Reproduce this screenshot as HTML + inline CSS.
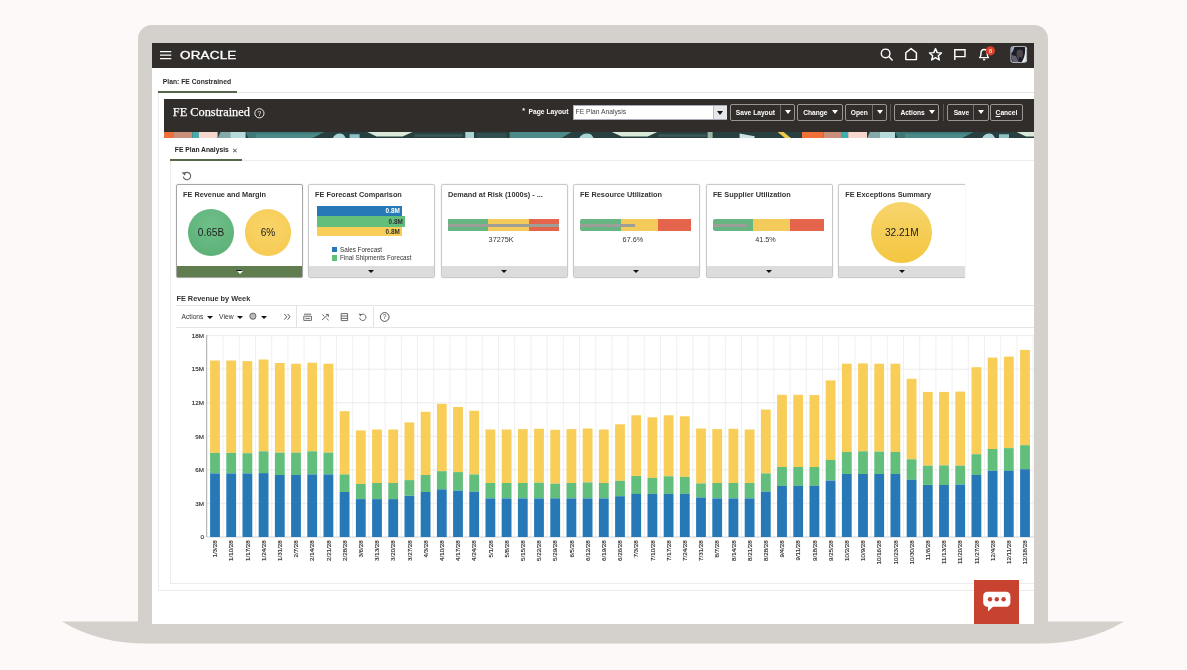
<!DOCTYPE html>
<html lang="en">
<head>
<meta charset="utf-8">
<title>FE Constrained - Plan</title>
<style>
*{box-sizing:border-box;margin:0;padding:0}
html,body{width:1187px;height:670px;overflow:hidden}
body{background:#fcf9f8;font-family:"Liberation Sans",sans-serif;color:#222;position:relative}
.abs{position:absolute}
.lid{position:absolute;left:138px;top:25px;width:910px;height:600px;background:#d4d0cb;border-radius:14px 14px 0 0}
.base{position:absolute;left:0;top:0;width:1187px;height:670px;pointer-events:none}
.screen{position:absolute;left:152px;top:43px;width:882px;height:581px;background:#fff;overflow:hidden}
.inner{position:absolute;left:-152px;top:-43px;width:1187px;height:670px;opacity:.999;will-change:transform}
.topbar{position:absolute;left:152px;top:43px;width:882px;height:24.5px;background:#312d2b}
.t{position:absolute;white-space:nowrap;line-height:1}
.b{font-weight:bold}
.ax{font-family:"Liberation Sans",sans-serif;font-size:6.25px;fill:#262626;stroke:#262626;stroke-width:.12px}
.hdr{position:absolute;left:164px;top:99px;width:870px;height:33px;background:#312d2b}
.btn{position:absolute;top:104.3px;height:16.4px;border:1px solid #9a9693;border-radius:2px;color:#fff;font-size:6.65px;font-weight:bold;line-height:15.2px;white-space:nowrap}
.btn span{position:absolute;top:0}
.btn i{position:absolute;top:0;bottom:0;width:1px;background:#6f6b68}
.tri{position:absolute;width:0;height:0;border-left:3px solid transparent;border-right:3px solid transparent;border-top:4px solid #fff}
.card{position:absolute;top:184.3px;width:126.7px;height:93.5px;border:1px solid #c9c9c9;border-radius:2px;background:#fff;box-shadow:0 0 2px rgba(0,0,0,.12)}
.card .ft{position:absolute;left:0;right:0;bottom:0;height:11.3px;background:#dcdcdc}
.card .ft:after{content:"";position:absolute;left:50%;top:4.1px;margin-left:-3.4px;border-left:3.4px solid transparent;border-right:3.4px solid transparent;border-top:3.8px solid #111}
.card .ttl{position:absolute;left:5.8px;top:6px;font-size:7.34px;font-weight:bold;color:#333;white-space:nowrap;line-height:1}
.g{position:absolute;top:33.6px;height:12.6px}
.val{position:absolute;top:50.7px;font-size:7.25px;color:#333;line-height:1;white-space:nowrap;transform:translateX(-50%)}
.circ{position:absolute;border-radius:50%;text-align:center;color:#222}
</style>
</head>
<body>
<div class="lid"></div>
<svg class="base" viewBox="0 0 1187 670"><path d="M62 621.5 L1124 621.5 C1098 637 1070 643.6 1040 643.6 L146 643.6 C116 643.6 88 637 62 621.5 Z" fill="#d4d0cb"/></svg>

<div class="screen"><div class="inner">

<!-- global top bar -->
<div class="topbar"></div>
<svg class="abs" style="left:0;top:0" width="1187" height="100" viewBox="0 0 1187 100">
  <g stroke="#fff" stroke-width="1.45" fill="none">
    <path d="M160 51.6H171.3M160 55.1H171.3M160 58.6H171.3"/>
    <!-- search -->
    <circle cx="885.6" cy="53.4" r="4.3"/><path d="M888.8 56.6L892.6 60.4"/>
    <!-- home -->
    <path d="M905.8 59.6V52.8L911.1 48.6L916.4 52.8V59.6Z" stroke-linejoin="round"/>
    <!-- star -->
    <path d="M935.5 48.6L937.2 52.6L941.5 53L938.3 55.8L939.3 60L935.5 57.7L931.7 60L932.7 55.8L929.5 53L933.8 52.6Z" stroke-linejoin="round"/>
    <!-- flag -->
    <path d="M954.8 60V49.8H965V56.6H954.8"/>
    <!-- bell -->
    <path d="M979.8 57.6H988.4C987.2 56.4 987.2 55 987.2 53.2C987.2 50.8 985.8 49.4 984.1 49.4C982.4 49.4 981 50.8 981 53.2C981 55 981 56.4 979.8 57.6Z" stroke-linejoin="round"/>
    <path d="M983 59.6H985.2"/>
  </g>
  <circle cx="990.4" cy="50.8" r="4.6" fill="#d9412c"/>
  <text x="990.6" y="52.6" text-anchor="middle" font-family="Liberation Sans, sans-serif" font-size="5.5" font-weight="bold" fill="#ffd9c4">8</text>
  <!-- avatar -->
  <rect x="1010.5" y="46.2" width="16.6" height="16.6" rx="2.8" fill="#d3d8e0"/>
  <clipPath id="avc"><rect x="1011.3" y="47" width="15" height="15" rx="2.2"/></clipPath>
  <g clip-path="url(#avc)">
    <rect x="1011" y="46.8" width="16" height="16" fill="#1a1d27"/>
    <path d="M1011 55L1013 62.5H1019L1016 56Z" fill="#635f72"/>
    <path d="M1026.6 47V62.4H1021.5C1024.5 58 1025.6 53 1025 47Z" fill="#e6ebea"/>
    <path d="M1011 47H1014.5L1012.5 52L1011 53Z" fill="#aab3c4"/>
    <path d="M1017.4 50.2C1020.6 48.6 1023.2 50 1023 53.4C1022.8 56.6 1021.6 59.4 1019.8 60.4C1018 59.6 1016.6 56.8 1016.6 54C1016.6 52.4 1016.8 51 1017.4 50.2Z" fill="#4d4548"/>
    <path d="M1019 57.4C1020 57 1021 57.2 1021.4 57.8C1021 59.4 1020.4 60.4 1019.8 60.8C1019.2 60 1018.8 58.6 1019 57.4Z" fill="#14151c"/>
  </g>
</svg>


<div class="t" id="oracle" style="left:179.8px;top:51px;font-size:10px;color:#fff;transform-origin:0 0;transform:scaleX(1.345);will-change:transform;letter-spacing:.15px;-webkit-text-stroke:.3px #fff">ORACLE</div>

<!-- plan tab -->
<div class="t b" id="plan" style="left:162.8px;top:79.2px;font-size:6.75px;color:#2a2a2a;">Plan: FE Constrained</div>
<div class="abs" style="left:158px;top:92.2px;width:876px;height:1px;background:#e6e6e6"></div>
<div class="abs" style="left:158px;top:91px;width:78.5px;height:2px;background:#56684a"></div>

<!-- dark header -->
<div class="hdr"></div>
<svg class="abs" style="left:164px;top:131.6px" width="870" height="6.6" viewBox="0 0 870 6.6" preserveAspectRatio="none">
  <defs>
    <g id="pat">
      <rect x="0" y="0" width="650" height="6.6" fill="#27403f"/>
      <rect x="0" y="0" width="21.4" height="6.6" fill="#f0703a"/>
      <rect x="21.4" y="0" width="18.4" height="6.6" fill="#c98f7a"/>
      <rect x="39.8" y="0" width="6.4" height="6.6" fill="#3fb0b0"/>
      <rect x="46.2" y="0" width="18.8" height="6.6" fill="#f6d6cd"/>
      <path d="M65 6.6L68 0H77.6V6.6Z" fill="#86a9aa"/>
      <rect x="77.6" y="0" width="15.4" height="6.6" fill="#b7dadc"/>
      <path d="M93 0H172L158 6.6H96Z" fill="#3e7878"/>
      <path d="M103 1.8H168L159 6.6H103Z" fill="#4c8a8a"/>
      <path d="M180 6.6C182 0.6 190 0.4 191.5 3.6L193.5 6.6Z" fill="#a9d3d6"/>
      <rect x="197" y="2.2" width="10" height="4.4" fill="#8fc0c4"/>
      <path d="M214.6 0H260L250 4.4H224Z" fill="#d9ead9"/>
      <path d="M262 2.2h48v2.6h-48z" fill="#3b5a5a"/>
      <rect x="312.7" y="0" width="8.7" height="6.6" fill="#a9d3d6"/>
      <rect x="324" y="1" width="30" height="5.6" fill="#30504f"/>
      <path d="M357 0H419L408 6.6H357Z" fill="#4c8a8a"/>
      <path d="M426.4 6.6C428.4 0.6 438 0.4 439.4 3.6L441.4 6.6Z" fill="#a9d3d6"/>
      <path d="M459.2 0H504.7L495 4.4H469Z" fill="#d9ead9"/>
      <path d="M506 2.2h48v2.6h-48z" fill="#3b5a5a"/>
      <rect x="555" y="0" width="5" height="6.6" fill="#9db4a3"/>
      <path d="M587 1.4L602 4.2V6.6H587Z" fill="#cfe3e3"/>
      <path d="M625 0L633 6.6H639L631 0Z" fill="#f0c84a"/>
    </g>
  </defs>
  <use href="#pat" x="-11.4"/><use href="#pat" x="638"/>
</svg>
<div class="t b" id="fec" style="left:172.8px;top:106.2px;font-family:'Liberation Serif',serif;font-size:12.35px;font-weight:normal;color:#fff;-webkit-text-stroke:.25px #fff">FE Constrained</div>
<svg class="abs" style="left:253px;top:107px" width="13" height="13" viewBox="0 0 13 13"><circle cx="6.4" cy="6.3" r="4.6" fill="none" stroke="#fff" stroke-width=".9"/><text x="6.4" y="8.7" text-anchor="middle" font-family="Liberation Sans, sans-serif" font-size="6.8" fill="#fff">?</text></svg>

<div class="t b" style="left:522.3px;top:107.4px;font-size:7px;color:#fff">*</div>
<div class="t b" id="pl" style="left:528.6px;top:109.1px;font-size:6.7px;color:#fff">Page Layout</div>
<div class="abs" style="left:572.6px;top:105.2px;width:154.6px;height:14.8px;background:#fff;border:1px solid #aab;"></div>
<div class="abs" style="left:712.5px;top:106px;width:14px;height:13.2px;background:#e4e6ea;border-left:1px solid #b8bcc4"></div>
<div class="tri" style="left:716.6px;top:111.2px;border-top-color:#111;border-left-width:3.2px;border-right-width:3.2px;border-top-width:4.2px"></div>
<div class="t" id="sel" style="left:575.6px;top:109.3px;font-size:6.73px;color:#444">FE Plan Analysis</div>

<div class="btn" style="left:730.2px;width:64.6px"><span style="left:4.6px">Save Layout</span><i style="left:48.6px"></i><div class="tri" style="left:53.6px;top:4.6px"></div></div>
<div class="btn" style="left:797.4px;width:45.4px"><span style="left:4.8px">Change</span><div class="tri" style="left:33.6px;top:4.6px"></div></div>
<div class="btn" style="left:844.6px;width:42.8px"><span style="left:5.2px">Open</span><i style="left:26.4px"></i><div class="tri" style="left:31.6px;top:4.6px"></div></div>
<div class="abs" style="left:890.4px;top:104px;width:1px;height:17px;background:#5b5754"></div>
<div class="btn" style="left:894.2px;width:44.8px"><span style="left:5.2px">Actions</span><div class="tri" style="left:34px;top:4.6px"></div></div>
<div class="abs" style="left:943px;top:104px;width:1px;height:17px;background:#5b5754"></div>
<div class="btn" style="left:947.3px;width:41.3px"><span style="left:5.4px">Save</span><i style="left:24.6px"></i><div class="tri" style="left:29.6px;top:4.6px"></div></div>
<div class="btn" style="left:990.4px;width:32.2px"><span style="left:4.2px"><u>C</u>ancel</span></div>

<!-- page frames -->
<div class="abs" style="left:157.5px;top:93px;width:900px;height:497.6px;border:1px solid #ebebeb;border-top:0"></div>
<div class="abs" style="left:169.6px;top:159.6px;width:900px;height:424px;border:1px solid #ececec"></div>

<!-- sub tab -->
<div class="t b" id="fpa" style="left:174.8px;top:146.6px;font-size:6.74px;color:#222">FE Plan Analysis</div>
<div class="t" style="left:232px;top:146.6px;font-size:7px;color:#444">✕</div>
<div class="abs" style="left:169.6px;top:159px;width:72px;height:2px;background:#56684a"></div>

<!-- refresh icon -->
<svg class="abs" style="left:181px;top:170px" width="12" height="12" viewBox="0 0 12 12"><path d="M3.4 3.4A3.7 3.7 0 1 1 2.3 6.6" fill="none" stroke="#666" stroke-width="1.1"/><path d="M0.6 2.6L4.8 2L4 5.8Z" fill="#666"/></svg>

<!-- cards -->
<div class="card" style="left:176.2px;border-color:#a4a4a4">
  <div class="ttl">FE Revenue and Margin</div>
  <div class="circ" style="left:10.5px;top:24px;width:46.6px;height:46.6px;background:radial-gradient(circle at 50% 35%,#6fc088,#58ad75);font-size:10.1px;line-height:48px">0.65B</div>
  <div class="circ" style="left:67.5px;top:24px;width:46.6px;height:46.6px;background:radial-gradient(circle at 50% 35%,#f9d468,#f5c94f);font-size:10.1px;line-height:48px">6%</div>
  <div class="ft" style="background:#5f7d4f"></div>
  <div class="abs" style="left:59.6px;bottom:3.2px;border-left:3.4px solid transparent;border-right:3.4px solid transparent;border-top:3.8px solid #fff"></div>
</div>

<div class="card" style="left:308.3px">
  <div class="ttl">FE Forecast Comparison</div>
  <div class="abs" style="left:7.9px;top:21.2px;width:84.7px;height:10px;background:#2679b6"></div>
  <div class="abs" style="left:7.9px;top:31.2px;width:87.8px;height:10.1px;background:#62be7b"></div>
  <div class="abs" style="left:7.9px;top:41.3px;width:84.7px;height:9.9px;background:#f8ce58"></div>
  <div class="t b" style="right:34.2px;top:23.2px;font-size:6.4px;color:#fff">0.8M</div>
  <div class="t b" style="right:31.2px;top:33.3px;font-size:6.4px;color:#333">0.8M</div>
  <div class="t b" style="right:34.2px;top:43.3px;font-size:6.4px;color:#333">0.8M</div>
  <div class="abs" style="left:22.5px;top:61.7px;width:5.4px;height:5.4px;background:#2679b6"></div>
  <div class="abs" style="left:22.5px;top:69.9px;width:5.4px;height:5.4px;background:#62be7b"></div>
  <div class="t" style="left:30.8px;top:61.4px;font-size:6.3px;color:#333">Sales Forecast</div>
  <div class="t" style="left:30.8px;top:69.6px;font-size:6.3px;color:#333">Final Shipments Forecast</div>
  <div class="ft"></div>
</div>

<div class="card" style="left:441.1px">
  <div class="ttl">Demand at Risk (1000s) - ...</div>
  <div class="g" style="left:5.8px;width:40.1px;background:#68b584"></div>
  <div class="g" style="left:45.9px;width:40.8px;background:#f3cb5b"></div>
  <div class="g" style="left:86.7px;width:30px;background:#e4654b"></div>
  <div class="abs" style="left:5.8px;top:38.5px;width:110.9px;height:3px;background:#9e9e98"></div>
  <div class="val" style="left:59px">37275K</div>
  <div class="ft"></div>
</div>

<div class="card" style="left:573.3px">
  <div class="ttl">FE Resource Utilization</div>
  <div class="g" style="left:5.6px;width:40.8px;background:#68b584;border-radius:2px 0 0 2px"></div>
  <div class="g" style="left:46.4px;width:37px;background:#f3cb5b"></div>
  <div class="g" style="left:83.4px;width:33.3px;background:#e4654b"></div>
  <div class="abs" style="left:5.6px;top:38.5px;width:55.1px;height:3px;background:#9e9e98"></div>
  <div class="val" style="left:58.6px">67.6%</div>
  <div class="ft"></div>
</div>

<div class="card" style="left:706.1px">
  <div class="ttl">FE Supplier Utilization</div>
  <div class="g" style="left:5.8px;width:40.1px;background:#68b584;border-radius:2px 0 0 2px"></div>
  <div class="g" style="left:45.9px;width:36.8px;background:#f3cb5b"></div>
  <div class="g" style="left:82.7px;width:34px;background:#e4654b"></div>
  <div class="abs" style="left:5.8px;top:38.5px;width:33.7px;height:3px;background:#9e9e98"></div>
  <div class="val" style="left:58.4px">41.5%</div>
  <div class="ft"></div>
</div>

<div class="card" style="left:838.4px;width:126.2px;border-right:0;border-radius:2px 0 0 2px">
  <div class="ttl">FE Exceptions Summary</div>
  <div class="circ" style="left:32px;top:16.8px;width:60.8px;height:60.8px;background:linear-gradient(#f7d56c,#f4c640);font-size:10.1px;line-height:61.8px">32.21M</div>
  <div class="ft"></div>
</div>

<!-- chart section -->
<div class="t b" id="rbw" style="left:176.4px;top:294.7px;font-size:7.36px;color:#333">FE Revenue by Week</div>
<div class="abs" style="left:176px;top:304.6px;width:860px;height:1px;background:#e6e6e6"></div>
<div class="abs" style="left:176px;top:327px;width:860px;height:1px;background:#e6e6e6"></div>
<div class="abs" style="left:296.2px;top:305px;width:1px;height:22px;background:#e2e2e2"></div>
<div class="abs" style="left:372.8px;top:307px;width:1px;height:20px;background:#e2e2e2"></div>
<div class="t" id="act" style="left:181.5px;top:313.6px;font-size:6.7px;color:#333">Actions</div>
<div class="tri" style="left:206.6px;top:316px;border-top-color:#111;border-width:3.6px 3.1px 0"></div>
<div class="t" id="view" style="left:219.1px;top:313.6px;font-size:6.75px;color:#333">View</div>
<div class="tri" style="left:236.5px;top:316px;border-top-color:#111;border-width:3.6px 3.1px 0"></div>
<div class="tri" style="left:260.6px;top:316px;border-top-color:#111;border-width:3.6px 3.1px 0"></div>
<svg class="abs" style="left:176px;top:305px" width="240" height="23" viewBox="176 305 240 23">
  <circle cx="252.9" cy="316.2" r="3.1" fill="#bbb" stroke="#666" stroke-width="1"/>
  <path d="M284.4 314L286.8 316.8L284.4 319.6M287.6 314L290 316.8L287.6 319.6" fill="none" stroke="#444" stroke-width=".9"/>
  <g stroke="#686868" stroke-width="1" fill="none">
    <path d="M304 314.2H311.2M303.8 316.2H311.4V320.4H303.8ZM305.4 318.4H309.8"/>
    <path d="M322 320L328 314.6M326 314.4H328.4V316.8M322.4 314.6L324.4 316.4M326.6 318.4L328.6 320.2"/>
    <path d="M341.2 313.6H347.6V320.6H341.2ZM341.2 316H347.6M341.2 318.4H347.6"/>
    <path d="M360.6 315A3.2 3.2 0 1 1 359.6 317.8"/>
  </g>
  <path d="M358.4 313.6L361.6 314L360.6 316.6Z" fill="#686868"/>
  <circle cx="384.7" cy="317" r="4.4" fill="none" stroke="#444" stroke-width=".9"/>
  <text x="384.7" y="319.4" text-anchor="middle" font-family="Liberation Sans, sans-serif" font-size="6.6" fill="#444">?</text>
</svg>

<svg class="abs" style="left:0;top:0" width="1187" height="670" viewBox="0 0 1187 670">
<line x1="223.1" y1="335.5" x2="223.1" y2="537.0" stroke="#f0f0f3" stroke-width="1"/>
<line x1="239.3" y1="335.5" x2="239.3" y2="537.0" stroke="#f0f0f3" stroke-width="1"/>
<line x1="255.5" y1="335.5" x2="255.5" y2="537.0" stroke="#f0f0f3" stroke-width="1"/>
<line x1="271.7" y1="335.5" x2="271.7" y2="537.0" stroke="#f0f0f3" stroke-width="1"/>
<line x1="287.9" y1="335.5" x2="287.9" y2="537.0" stroke="#f0f0f3" stroke-width="1"/>
<line x1="304.1" y1="335.5" x2="304.1" y2="537.0" stroke="#f0f0f3" stroke-width="1"/>
<line x1="320.3" y1="335.5" x2="320.3" y2="537.0" stroke="#f0f0f3" stroke-width="1"/>
<line x1="336.5" y1="335.5" x2="336.5" y2="537.0" stroke="#f0f0f3" stroke-width="1"/>
<line x1="352.7" y1="335.5" x2="352.7" y2="537.0" stroke="#f0f0f3" stroke-width="1"/>
<line x1="368.9" y1="335.5" x2="368.9" y2="537.0" stroke="#f0f0f3" stroke-width="1"/>
<line x1="385.1" y1="335.5" x2="385.1" y2="537.0" stroke="#f0f0f3" stroke-width="1"/>
<line x1="401.3" y1="335.5" x2="401.3" y2="537.0" stroke="#f0f0f3" stroke-width="1"/>
<line x1="417.5" y1="335.5" x2="417.5" y2="537.0" stroke="#f0f0f3" stroke-width="1"/>
<line x1="433.7" y1="335.5" x2="433.7" y2="537.0" stroke="#f0f0f3" stroke-width="1"/>
<line x1="449.9" y1="335.5" x2="449.9" y2="537.0" stroke="#f0f0f3" stroke-width="1"/>
<line x1="466.1" y1="335.5" x2="466.1" y2="537.0" stroke="#f0f0f3" stroke-width="1"/>
<line x1="482.3" y1="335.5" x2="482.3" y2="537.0" stroke="#f0f0f3" stroke-width="1"/>
<line x1="498.5" y1="335.5" x2="498.5" y2="537.0" stroke="#f0f0f3" stroke-width="1"/>
<line x1="514.7" y1="335.5" x2="514.7" y2="537.0" stroke="#f0f0f3" stroke-width="1"/>
<line x1="530.9" y1="335.5" x2="530.9" y2="537.0" stroke="#f0f0f3" stroke-width="1"/>
<line x1="547.1" y1="335.5" x2="547.1" y2="537.0" stroke="#f0f0f3" stroke-width="1"/>
<line x1="563.3" y1="335.5" x2="563.3" y2="537.0" stroke="#f0f0f3" stroke-width="1"/>
<line x1="579.5" y1="335.5" x2="579.5" y2="537.0" stroke="#f0f0f3" stroke-width="1"/>
<line x1="595.7" y1="335.5" x2="595.7" y2="537.0" stroke="#f0f0f3" stroke-width="1"/>
<line x1="611.9" y1="335.5" x2="611.9" y2="537.0" stroke="#f0f0f3" stroke-width="1"/>
<line x1="628.1" y1="335.5" x2="628.1" y2="537.0" stroke="#f0f0f3" stroke-width="1"/>
<line x1="644.3" y1="335.5" x2="644.3" y2="537.0" stroke="#f0f0f3" stroke-width="1"/>
<line x1="660.5" y1="335.5" x2="660.5" y2="537.0" stroke="#f0f0f3" stroke-width="1"/>
<line x1="676.7" y1="335.5" x2="676.7" y2="537.0" stroke="#f0f0f3" stroke-width="1"/>
<line x1="692.9" y1="335.5" x2="692.9" y2="537.0" stroke="#f0f0f3" stroke-width="1"/>
<line x1="709.1" y1="335.5" x2="709.1" y2="537.0" stroke="#f0f0f3" stroke-width="1"/>
<line x1="725.3" y1="335.5" x2="725.3" y2="537.0" stroke="#f0f0f3" stroke-width="1"/>
<line x1="741.5" y1="335.5" x2="741.5" y2="537.0" stroke="#f0f0f3" stroke-width="1"/>
<line x1="757.7" y1="335.5" x2="757.7" y2="537.0" stroke="#f0f0f3" stroke-width="1"/>
<line x1="773.9" y1="335.5" x2="773.9" y2="537.0" stroke="#f0f0f3" stroke-width="1"/>
<line x1="790.1" y1="335.5" x2="790.1" y2="537.0" stroke="#f0f0f3" stroke-width="1"/>
<line x1="806.3" y1="335.5" x2="806.3" y2="537.0" stroke="#f0f0f3" stroke-width="1"/>
<line x1="822.5" y1="335.5" x2="822.5" y2="537.0" stroke="#f0f0f3" stroke-width="1"/>
<line x1="838.7" y1="335.5" x2="838.7" y2="537.0" stroke="#f0f0f3" stroke-width="1"/>
<line x1="854.9" y1="335.5" x2="854.9" y2="537.0" stroke="#f0f0f3" stroke-width="1"/>
<line x1="871.1" y1="335.5" x2="871.1" y2="537.0" stroke="#f0f0f3" stroke-width="1"/>
<line x1="887.3" y1="335.5" x2="887.3" y2="537.0" stroke="#f0f0f3" stroke-width="1"/>
<line x1="903.5" y1="335.5" x2="903.5" y2="537.0" stroke="#f0f0f3" stroke-width="1"/>
<line x1="919.7" y1="335.5" x2="919.7" y2="537.0" stroke="#f0f0f3" stroke-width="1"/>
<line x1="935.9" y1="335.5" x2="935.9" y2="537.0" stroke="#f0f0f3" stroke-width="1"/>
<line x1="952.1" y1="335.5" x2="952.1" y2="537.0" stroke="#f0f0f3" stroke-width="1"/>
<line x1="968.3" y1="335.5" x2="968.3" y2="537.0" stroke="#f0f0f3" stroke-width="1"/>
<line x1="984.5" y1="335.5" x2="984.5" y2="537.0" stroke="#f0f0f3" stroke-width="1"/>
<line x1="1000.7" y1="335.5" x2="1000.7" y2="537.0" stroke="#f0f0f3" stroke-width="1"/>
<line x1="1016.9" y1="335.5" x2="1016.9" y2="537.0" stroke="#f0f0f3" stroke-width="1"/>
<line x1="1033.1" y1="335.5" x2="1033.1" y2="537.0" stroke="#f0f0f3" stroke-width="1"/>
<line x1="206.7" y1="503.4" x2="1034" y2="503.4" stroke="#ececf0" stroke-width="1"/>
<line x1="206.7" y1="469.9" x2="1034" y2="469.9" stroke="#ececf0" stroke-width="1"/>
<line x1="206.7" y1="436.4" x2="1034" y2="436.4" stroke="#ececf0" stroke-width="1"/>
<line x1="206.7" y1="402.8" x2="1034" y2="402.8" stroke="#ececf0" stroke-width="1"/>
<line x1="206.7" y1="369.2" x2="1034" y2="369.2" stroke="#ececf0" stroke-width="1"/>
<line x1="206.7" y1="335.7" x2="1034" y2="335.7" stroke="#ececf0" stroke-width="1"/>
<line x1="206.7" y1="335" x2="206.7" y2="537.0" stroke="#a8a8a8" stroke-width="1"/>
<line x1="206.7" y1="537.0" x2="1034" y2="537.0" stroke="#d0d0d0" stroke-width="1"/>
<rect x="210.1" y="360.5" width="9.8" height="92.4" fill="#f8ce58"/>
<rect x="210.1" y="452.9" width="9.8" height="20.5" fill="#62be7b"/>
<rect x="210.1" y="473.4" width="9.8" height="63.6" fill="#2679b6"/>
<rect x="226.3" y="360.5" width="9.8" height="92.4" fill="#f8ce58"/>
<rect x="226.3" y="452.9" width="9.8" height="20.5" fill="#62be7b"/>
<rect x="226.3" y="473.4" width="9.8" height="63.6" fill="#2679b6"/>
<rect x="242.5" y="361.1" width="9.8" height="92.1" fill="#f8ce58"/>
<rect x="242.5" y="453.2" width="9.8" height="20.2" fill="#62be7b"/>
<rect x="242.5" y="473.4" width="9.8" height="63.6" fill="#2679b6"/>
<rect x="258.7" y="359.5" width="9.8" height="91.8" fill="#f8ce58"/>
<rect x="258.7" y="451.3" width="9.8" height="21.8" fill="#62be7b"/>
<rect x="258.7" y="473.1" width="9.8" height="63.9" fill="#2679b6"/>
<rect x="274.9" y="363.0" width="9.8" height="89.5" fill="#f8ce58"/>
<rect x="274.9" y="452.6" width="9.8" height="22.5" fill="#62be7b"/>
<rect x="274.9" y="475.0" width="9.8" height="62.0" fill="#2679b6"/>
<rect x="291.1" y="363.7" width="9.8" height="88.9" fill="#f8ce58"/>
<rect x="291.1" y="452.6" width="9.8" height="22.5" fill="#62be7b"/>
<rect x="291.1" y="475.0" width="9.8" height="62.0" fill="#2679b6"/>
<rect x="307.3" y="362.7" width="9.8" height="88.5" fill="#f8ce58"/>
<rect x="307.3" y="451.3" width="9.8" height="23.1" fill="#62be7b"/>
<rect x="307.3" y="474.4" width="9.8" height="62.6" fill="#2679b6"/>
<rect x="323.5" y="363.7" width="9.8" height="88.9" fill="#f8ce58"/>
<rect x="323.5" y="452.6" width="9.8" height="21.8" fill="#62be7b"/>
<rect x="323.5" y="474.4" width="9.8" height="62.6" fill="#2679b6"/>
<rect x="339.7" y="411.2" width="9.8" height="63.2" fill="#f8ce58"/>
<rect x="339.7" y="474.4" width="9.8" height="17.6" fill="#62be7b"/>
<rect x="339.7" y="492.0" width="9.8" height="45.0" fill="#2679b6"/>
<rect x="355.9" y="430.4" width="9.8" height="53.6" fill="#f8ce58"/>
<rect x="355.9" y="484.0" width="9.8" height="15.1" fill="#62be7b"/>
<rect x="355.9" y="499.1" width="9.8" height="37.9" fill="#2679b6"/>
<rect x="372.1" y="429.5" width="9.8" height="53.6" fill="#f8ce58"/>
<rect x="372.1" y="483.0" width="9.8" height="16.0" fill="#62be7b"/>
<rect x="372.1" y="499.1" width="9.8" height="37.9" fill="#2679b6"/>
<rect x="388.3" y="429.5" width="9.8" height="53.6" fill="#f8ce58"/>
<rect x="388.3" y="483.0" width="9.8" height="16.0" fill="#62be7b"/>
<rect x="388.3" y="499.1" width="9.8" height="37.9" fill="#2679b6"/>
<rect x="404.5" y="422.4" width="9.8" height="57.7" fill="#f8ce58"/>
<rect x="404.5" y="480.1" width="9.8" height="15.7" fill="#62be7b"/>
<rect x="404.5" y="495.9" width="9.8" height="41.1" fill="#2679b6"/>
<rect x="420.7" y="411.8" width="9.8" height="63.2" fill="#f8ce58"/>
<rect x="420.7" y="475.0" width="9.8" height="17.0" fill="#62be7b"/>
<rect x="420.7" y="492.0" width="9.8" height="45.0" fill="#2679b6"/>
<rect x="436.9" y="403.8" width="9.8" height="67.4" fill="#f8ce58"/>
<rect x="436.9" y="471.2" width="9.8" height="18.3" fill="#62be7b"/>
<rect x="436.9" y="489.4" width="9.8" height="47.6" fill="#2679b6"/>
<rect x="453.1" y="407.0" width="9.8" height="65.1" fill="#f8ce58"/>
<rect x="453.1" y="472.1" width="9.8" height="18.6" fill="#62be7b"/>
<rect x="453.1" y="490.7" width="9.8" height="46.3" fill="#2679b6"/>
<rect x="469.3" y="410.8" width="9.8" height="63.5" fill="#f8ce58"/>
<rect x="469.3" y="474.4" width="9.8" height="17.3" fill="#62be7b"/>
<rect x="469.3" y="491.7" width="9.8" height="45.3" fill="#2679b6"/>
<rect x="485.5" y="429.5" width="9.8" height="53.6" fill="#f8ce58"/>
<rect x="485.5" y="483.0" width="9.8" height="15.4" fill="#62be7b"/>
<rect x="485.5" y="498.4" width="9.8" height="38.6" fill="#2679b6"/>
<rect x="501.7" y="429.5" width="9.8" height="53.6" fill="#f8ce58"/>
<rect x="501.7" y="483.0" width="9.8" height="15.4" fill="#62be7b"/>
<rect x="501.7" y="498.4" width="9.8" height="38.6" fill="#2679b6"/>
<rect x="517.9" y="429.1" width="9.8" height="53.9" fill="#f8ce58"/>
<rect x="517.9" y="483.0" width="9.8" height="15.4" fill="#62be7b"/>
<rect x="517.9" y="498.4" width="9.8" height="38.6" fill="#2679b6"/>
<rect x="534.1" y="428.8" width="9.8" height="53.9" fill="#f8ce58"/>
<rect x="534.1" y="482.7" width="9.8" height="15.7" fill="#62be7b"/>
<rect x="534.1" y="498.4" width="9.8" height="38.6" fill="#2679b6"/>
<rect x="550.3" y="429.8" width="9.8" height="53.9" fill="#f8ce58"/>
<rect x="550.3" y="483.7" width="9.8" height="14.8" fill="#62be7b"/>
<rect x="550.3" y="498.4" width="9.8" height="38.6" fill="#2679b6"/>
<rect x="566.5" y="429.1" width="9.8" height="53.9" fill="#f8ce58"/>
<rect x="566.5" y="483.0" width="9.8" height="15.4" fill="#62be7b"/>
<rect x="566.5" y="498.4" width="9.8" height="38.6" fill="#2679b6"/>
<rect x="582.7" y="428.5" width="9.8" height="53.9" fill="#f8ce58"/>
<rect x="582.7" y="482.4" width="9.8" height="16.0" fill="#62be7b"/>
<rect x="582.7" y="498.4" width="9.8" height="38.6" fill="#2679b6"/>
<rect x="598.9" y="429.5" width="9.8" height="53.6" fill="#f8ce58"/>
<rect x="598.9" y="483.0" width="9.8" height="15.4" fill="#62be7b"/>
<rect x="598.9" y="498.4" width="9.8" height="38.6" fill="#2679b6"/>
<rect x="615.1" y="424.3" width="9.8" height="56.5" fill="#f8ce58"/>
<rect x="615.1" y="480.8" width="9.8" height="15.4" fill="#62be7b"/>
<rect x="615.1" y="496.2" width="9.8" height="40.8" fill="#2679b6"/>
<rect x="631.3" y="415.3" width="9.8" height="60.6" fill="#f8ce58"/>
<rect x="631.3" y="476.0" width="9.8" height="18.0" fill="#62be7b"/>
<rect x="631.3" y="493.9" width="9.8" height="43.1" fill="#2679b6"/>
<rect x="647.5" y="417.3" width="9.8" height="60.6" fill="#f8ce58"/>
<rect x="647.5" y="477.9" width="9.8" height="16.0" fill="#62be7b"/>
<rect x="647.5" y="493.9" width="9.8" height="43.1" fill="#2679b6"/>
<rect x="663.7" y="415.3" width="9.8" height="61.0" fill="#f8ce58"/>
<rect x="663.7" y="476.3" width="9.8" height="17.6" fill="#62be7b"/>
<rect x="663.7" y="493.9" width="9.8" height="43.1" fill="#2679b6"/>
<rect x="679.9" y="416.3" width="9.8" height="60.6" fill="#f8ce58"/>
<rect x="679.9" y="476.9" width="9.8" height="17.0" fill="#62be7b"/>
<rect x="679.9" y="493.9" width="9.8" height="43.1" fill="#2679b6"/>
<rect x="696.1" y="428.5" width="9.8" height="54.9" fill="#f8ce58"/>
<rect x="696.1" y="483.4" width="9.8" height="14.1" fill="#62be7b"/>
<rect x="696.1" y="497.5" width="9.8" height="39.5" fill="#2679b6"/>
<rect x="712.3" y="429.1" width="9.8" height="53.9" fill="#f8ce58"/>
<rect x="712.3" y="483.0" width="9.8" height="15.4" fill="#62be7b"/>
<rect x="712.3" y="498.4" width="9.8" height="38.6" fill="#2679b6"/>
<rect x="728.5" y="428.8" width="9.8" height="54.2" fill="#f8ce58"/>
<rect x="728.5" y="483.0" width="9.8" height="15.4" fill="#62be7b"/>
<rect x="728.5" y="498.4" width="9.8" height="38.6" fill="#2679b6"/>
<rect x="744.7" y="429.5" width="9.8" height="53.6" fill="#f8ce58"/>
<rect x="744.7" y="483.0" width="9.8" height="15.4" fill="#62be7b"/>
<rect x="744.7" y="498.4" width="9.8" height="38.6" fill="#2679b6"/>
<rect x="760.9" y="409.6" width="9.8" height="63.8" fill="#f8ce58"/>
<rect x="760.9" y="473.4" width="9.8" height="18.3" fill="#62be7b"/>
<rect x="760.9" y="491.7" width="9.8" height="45.3" fill="#2679b6"/>
<rect x="777.1" y="394.8" width="9.8" height="72.2" fill="#f8ce58"/>
<rect x="777.1" y="467.0" width="9.8" height="18.9" fill="#62be7b"/>
<rect x="777.1" y="485.9" width="9.8" height="51.1" fill="#2679b6"/>
<rect x="793.3" y="394.8" width="9.8" height="72.2" fill="#f8ce58"/>
<rect x="793.3" y="467.0" width="9.8" height="18.9" fill="#62be7b"/>
<rect x="793.3" y="485.9" width="9.8" height="51.1" fill="#2679b6"/>
<rect x="809.5" y="395.1" width="9.8" height="71.9" fill="#f8ce58"/>
<rect x="809.5" y="467.0" width="9.8" height="18.9" fill="#62be7b"/>
<rect x="809.5" y="485.9" width="9.8" height="51.1" fill="#2679b6"/>
<rect x="825.7" y="380.4" width="9.8" height="79.6" fill="#f8ce58"/>
<rect x="825.7" y="459.9" width="9.8" height="20.5" fill="#62be7b"/>
<rect x="825.7" y="480.5" width="9.8" height="56.5" fill="#2679b6"/>
<rect x="841.9" y="363.7" width="9.8" height="88.2" fill="#f8ce58"/>
<rect x="841.9" y="451.9" width="9.8" height="22.1" fill="#62be7b"/>
<rect x="841.9" y="474.0" width="9.8" height="63.0" fill="#2679b6"/>
<rect x="858.1" y="363.4" width="9.8" height="87.9" fill="#f8ce58"/>
<rect x="858.1" y="451.3" width="9.8" height="22.8" fill="#62be7b"/>
<rect x="858.1" y="474.0" width="9.8" height="63.0" fill="#2679b6"/>
<rect x="874.3" y="363.7" width="9.8" height="87.9" fill="#f8ce58"/>
<rect x="874.3" y="451.6" width="9.8" height="22.5" fill="#62be7b"/>
<rect x="874.3" y="474.0" width="9.8" height="63.0" fill="#2679b6"/>
<rect x="890.5" y="363.7" width="9.8" height="88.2" fill="#f8ce58"/>
<rect x="890.5" y="451.9" width="9.8" height="22.1" fill="#62be7b"/>
<rect x="890.5" y="474.0" width="9.8" height="63.0" fill="#2679b6"/>
<rect x="906.7" y="378.8" width="9.8" height="80.5" fill="#f8ce58"/>
<rect x="906.7" y="459.3" width="9.8" height="20.5" fill="#62be7b"/>
<rect x="906.7" y="479.8" width="9.8" height="57.2" fill="#2679b6"/>
<rect x="922.9" y="391.9" width="9.8" height="73.8" fill="#f8ce58"/>
<rect x="922.9" y="465.7" width="9.8" height="19.2" fill="#62be7b"/>
<rect x="922.9" y="485.0" width="9.8" height="52.0" fill="#2679b6"/>
<rect x="939.1" y="391.9" width="9.8" height="73.5" fill="#f8ce58"/>
<rect x="939.1" y="465.4" width="9.8" height="19.6" fill="#62be7b"/>
<rect x="939.1" y="485.0" width="9.8" height="52.0" fill="#2679b6"/>
<rect x="955.3" y="391.6" width="9.8" height="74.1" fill="#f8ce58"/>
<rect x="955.3" y="465.7" width="9.8" height="18.9" fill="#62be7b"/>
<rect x="955.3" y="484.6" width="9.8" height="52.4" fill="#2679b6"/>
<rect x="971.5" y="367.2" width="9.8" height="86.9" fill="#f8ce58"/>
<rect x="971.5" y="454.2" width="9.8" height="20.9" fill="#62be7b"/>
<rect x="971.5" y="475.0" width="9.8" height="62.0" fill="#2679b6"/>
<rect x="987.7" y="357.6" width="9.8" height="91.4" fill="#f8ce58"/>
<rect x="987.7" y="449.0" width="9.8" height="21.8" fill="#62be7b"/>
<rect x="987.7" y="470.8" width="9.8" height="66.2" fill="#2679b6"/>
<rect x="1003.9" y="356.6" width="9.8" height="91.4" fill="#f8ce58"/>
<rect x="1003.9" y="448.1" width="9.8" height="22.8" fill="#62be7b"/>
<rect x="1003.9" y="470.8" width="9.8" height="66.2" fill="#2679b6"/>
<rect x="1020.1" y="349.9" width="9.8" height="95.3" fill="#f8ce58"/>
<rect x="1020.1" y="445.2" width="9.8" height="24.1" fill="#62be7b"/>
<rect x="1020.1" y="469.2" width="9.8" height="67.8" fill="#2679b6"/>
<text x="204" y="539.2" text-anchor="end" class="ax">0</text>
<text x="204" y="505.6" text-anchor="end" class="ax">3M</text>
<text x="204" y="472.1" text-anchor="end" class="ax">6M</text>
<text x="204" y="438.6" text-anchor="end" class="ax">9M</text>
<text x="204" y="405.0" text-anchor="end" class="ax">12M</text>
<text x="204" y="371.4" text-anchor="end" class="ax">15M</text>
<text x="204" y="337.9" text-anchor="end" class="ax">18M</text>
<text transform="translate(217.1,540.2) rotate(-90)" text-anchor="end" class="ax">1/3/28</text>
<text transform="translate(233.3,540.2) rotate(-90)" text-anchor="end" class="ax">1/10/28</text>
<text transform="translate(249.5,540.2) rotate(-90)" text-anchor="end" class="ax">1/17/28</text>
<text transform="translate(265.7,540.2) rotate(-90)" text-anchor="end" class="ax">1/24/28</text>
<text transform="translate(281.9,540.2) rotate(-90)" text-anchor="end" class="ax">1/31/28</text>
<text transform="translate(298.1,540.2) rotate(-90)" text-anchor="end" class="ax">2/7/28</text>
<text transform="translate(314.3,540.2) rotate(-90)" text-anchor="end" class="ax">2/14/28</text>
<text transform="translate(330.5,540.2) rotate(-90)" text-anchor="end" class="ax">2/21/28</text>
<text transform="translate(346.7,540.2) rotate(-90)" text-anchor="end" class="ax">2/28/28</text>
<text transform="translate(362.9,540.2) rotate(-90)" text-anchor="end" class="ax">3/6/28</text>
<text transform="translate(379.1,540.2) rotate(-90)" text-anchor="end" class="ax">3/13/28</text>
<text transform="translate(395.3,540.2) rotate(-90)" text-anchor="end" class="ax">3/20/28</text>
<text transform="translate(411.5,540.2) rotate(-90)" text-anchor="end" class="ax">3/27/28</text>
<text transform="translate(427.7,540.2) rotate(-90)" text-anchor="end" class="ax">4/3/28</text>
<text transform="translate(443.9,540.2) rotate(-90)" text-anchor="end" class="ax">4/10/28</text>
<text transform="translate(460.1,540.2) rotate(-90)" text-anchor="end" class="ax">4/17/28</text>
<text transform="translate(476.3,540.2) rotate(-90)" text-anchor="end" class="ax">4/24/28</text>
<text transform="translate(492.5,540.2) rotate(-90)" text-anchor="end" class="ax">5/1/28</text>
<text transform="translate(508.7,540.2) rotate(-90)" text-anchor="end" class="ax">5/8/28</text>
<text transform="translate(524.9,540.2) rotate(-90)" text-anchor="end" class="ax">5/15/28</text>
<text transform="translate(541.1,540.2) rotate(-90)" text-anchor="end" class="ax">5/22/28</text>
<text transform="translate(557.3,540.2) rotate(-90)" text-anchor="end" class="ax">5/29/28</text>
<text transform="translate(573.5,540.2) rotate(-90)" text-anchor="end" class="ax">6/5/28</text>
<text transform="translate(589.7,540.2) rotate(-90)" text-anchor="end" class="ax">6/12/28</text>
<text transform="translate(605.9,540.2) rotate(-90)" text-anchor="end" class="ax">6/19/28</text>
<text transform="translate(622.1,540.2) rotate(-90)" text-anchor="end" class="ax">6/26/28</text>
<text transform="translate(638.3,540.2) rotate(-90)" text-anchor="end" class="ax">7/3/28</text>
<text transform="translate(654.5,540.2) rotate(-90)" text-anchor="end" class="ax">7/10/28</text>
<text transform="translate(670.7,540.2) rotate(-90)" text-anchor="end" class="ax">7/17/28</text>
<text transform="translate(686.9,540.2) rotate(-90)" text-anchor="end" class="ax">7/24/28</text>
<text transform="translate(703.1,540.2) rotate(-90)" text-anchor="end" class="ax">7/31/28</text>
<text transform="translate(719.3,540.2) rotate(-90)" text-anchor="end" class="ax">8/7/28</text>
<text transform="translate(735.5,540.2) rotate(-90)" text-anchor="end" class="ax">8/14/28</text>
<text transform="translate(751.7,540.2) rotate(-90)" text-anchor="end" class="ax">8/21/28</text>
<text transform="translate(767.9,540.2) rotate(-90)" text-anchor="end" class="ax">8/28/28</text>
<text transform="translate(784.1,540.2) rotate(-90)" text-anchor="end" class="ax">9/4/28</text>
<text transform="translate(800.3,540.2) rotate(-90)" text-anchor="end" class="ax">9/11/28</text>
<text transform="translate(816.5,540.2) rotate(-90)" text-anchor="end" class="ax">9/18/28</text>
<text transform="translate(832.7,540.2) rotate(-90)" text-anchor="end" class="ax">9/25/28</text>
<text transform="translate(848.9,540.2) rotate(-90)" text-anchor="end" class="ax">10/2/28</text>
<text transform="translate(865.1,540.2) rotate(-90)" text-anchor="end" class="ax">10/9/28</text>
<text transform="translate(881.3,540.2) rotate(-90)" text-anchor="end" class="ax">10/16/28</text>
<text transform="translate(897.5,540.2) rotate(-90)" text-anchor="end" class="ax">10/23/28</text>
<text transform="translate(913.7,540.2) rotate(-90)" text-anchor="end" class="ax">10/30/28</text>
<text transform="translate(929.9,540.2) rotate(-90)" text-anchor="end" class="ax">11/6/28</text>
<text transform="translate(946.1,540.2) rotate(-90)" text-anchor="end" class="ax">11/13/28</text>
<text transform="translate(962.3,540.2) rotate(-90)" text-anchor="end" class="ax">11/20/28</text>
<text transform="translate(978.5,540.2) rotate(-90)" text-anchor="end" class="ax">11/27/28</text>
<text transform="translate(994.7,540.2) rotate(-90)" text-anchor="end" class="ax">12/4/28</text>
<text transform="translate(1010.9,540.2) rotate(-90)" text-anchor="end" class="ax">12/11/28</text>
<text transform="translate(1027.1,540.2) rotate(-90)" text-anchor="end" class="ax">12/18/28</text>
</svg>

<!-- chat button -->
<div class="abs" style="left:974.2px;top:580px;width:45px;height:44px;background:#c7432f"></div>
<svg class="abs" style="left:974.2px;top:580px" width="45" height="44" viewBox="0 0 45 44">
  <path d="M13.4 11.8H32.2C34.6 11.8 36.4 13.6 36.4 16V22.6C36.4 25 34.6 26.8 32.2 26.8H19L14 31.4V26.8H13.4C11 26.8 9.2 25 9.2 22.6V16C9.2 13.6 11 11.8 13.4 11.8Z" fill="#fff"/>
  <circle cx="16" cy="19.3" r="2.2" fill="#c7432f"/><circle cx="22.8" cy="19.3" r="2.2" fill="#c7432f"/><circle cx="29.6" cy="19.3" r="2.2" fill="#c7432f"/>
</svg>

</div></div>
</body>
</html>
